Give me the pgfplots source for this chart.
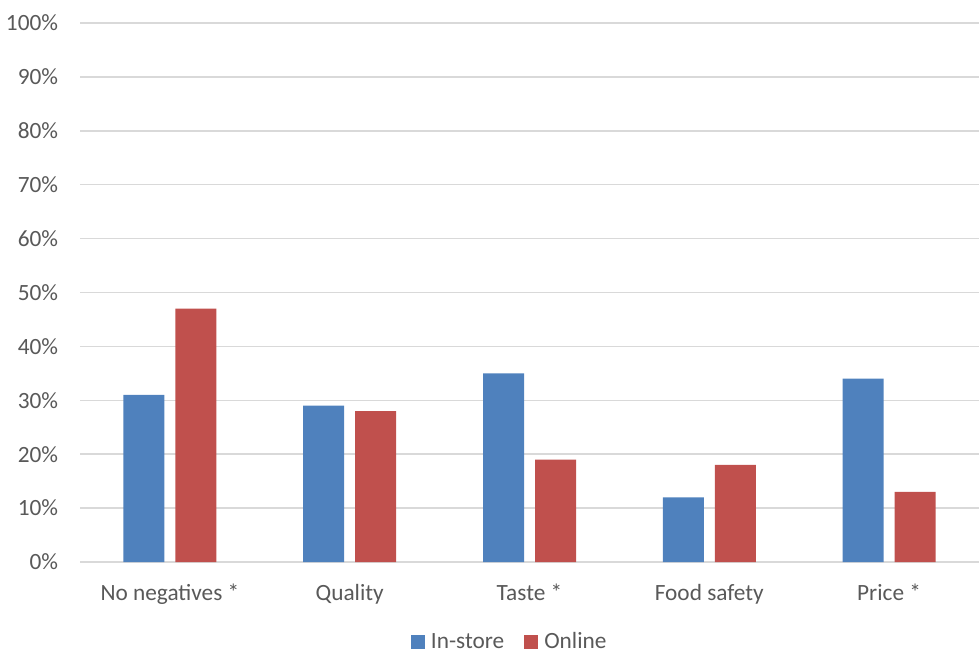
\documentclass[border=0pt]{standalone}
\usepackage{pgfplots}
\pgfplotsset{compat=1.18}
\usepackage{fontspec}
\setmainfont{Carlito}
\definecolor{instore}{HTML}{4F81BD}
\definecolor{online}{HTML}{C0504D}
\definecolor{txt}{HTML}{595959}
\definecolor{gridc}{HTML}{D9D9D9}
\begin{document}
\fontsize{23.3bp}{28bp}\selectfont
\begin{tikzpicture}[x=1bp,y=1bp]
\path[use as bounding box] (0,0) rectangle (979bp,653bp);
\begin{axis}[
  at={(80bp,91bp)}, anchor=south west,
  scale only axis, width=899bp, height=539bp,
  ymin=0, ymax=100,
  xmin=-0.5, xmax=4.5,
  xtick={0,1,2,3,4},
  xticklabels={No negatives *, Quality, Taste *, Food safety, Price *},
  ytick={0,10,...,100},
  yticklabel={\pgfmathprintnumber{\tick}\%},
  /pgf/number format/assume math mode=true,
  ymajorgrids=true, xmajorgrids=false,
  major grid style={draw=gridc, line width=1.5bp},
  axis x line*=bottom, axis y line*=left,
  x axis line style={draw=gridc, line width=1.5bp, -},
  y axis line style={draw=none},
  major tick length=0pt,
  tick label style={text=txt, font=\fontsize{23.3bp}{28bp}\selectfont},
  yticklabel style={xshift=-14bp},
  xticklabel style={yshift=-14bp},
  ybar, bar width=41bp,
  legend style={at={(0.478,-0.149)}, anchor=center, draw=none, legend columns=2,
     inner sep=0pt, fill=none,
     font=\fontsize{23.3bp}{28bp}\selectfont, text=txt,
     nodes={inner ysep=0pt, inner xsep=2bp},
     /tikz/every even column/.append style={column sep=18bp}},
  legend image code/.code={\fill[#1] (0bp,-7bp) rectangle (14bp,7bp); \path (18bp,0bp);},
  clip=false,
]
\addplot[fill=instore, draw=none, bar shift=-26bp] coordinates {(0,31) (1,29) (2,35) (3,12) (4,34)};
\addplot[fill=online, draw=none, bar shift=26bp] coordinates {(0,47) (1,28) (2,19) (3,18) (4,13)};
\legend{In-store, Online}
\end{axis}
\end{tikzpicture}
\end{document}
